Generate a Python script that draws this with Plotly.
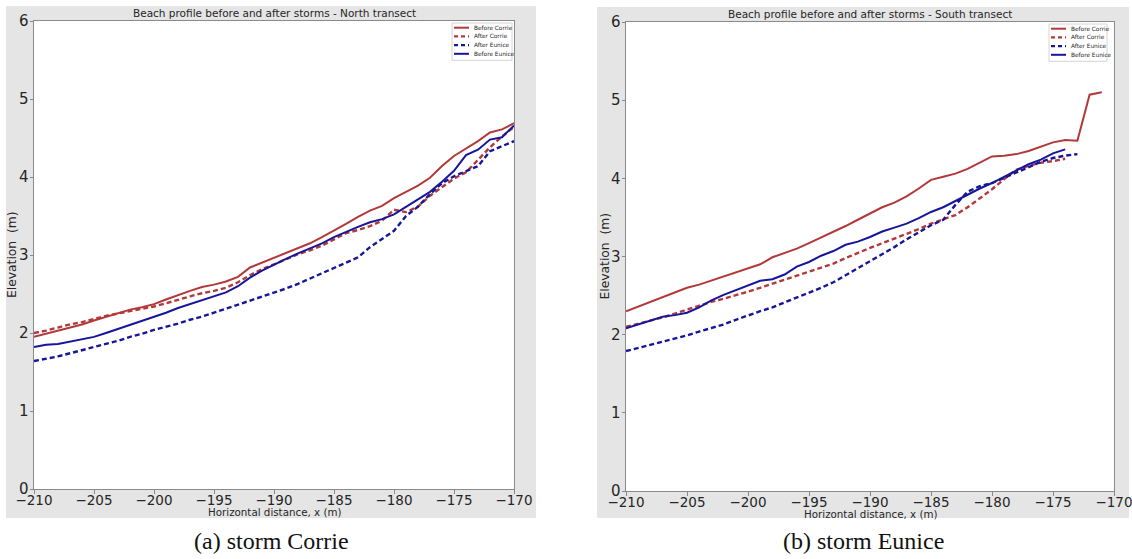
import plotly.graph_objects as go

W, H = 1132, 559

# ---------------- data ----------------
x_north = list(range(-210, -169))  # -210 .. -170

north_before_corrie = [1.95, 1.99, 2.03, 2.07, 2.11, 2.16, 2.21, 2.26, 2.30, 2.33,
                       2.37, 2.43, 2.49, 2.54, 2.59, 2.62, 2.66, 2.72, 2.84, 2.90,
                       2.96, 3.03, 3.09, 3.15, 3.23, 3.31, 3.40, 3.49, 3.57, 3.63,
                       3.73, 3.81, 3.89, 3.99, 4.14, 4.27, 4.36, 4.46, 4.57, 4.61,
                       4.69]
north_after_corrie = [2.00, 2.03, 2.07, 2.11, 2.14, 2.18, 2.22, 2.25, 2.28, 2.31,
                      2.34, 2.38, 2.43, 2.47, 2.51, 2.54, 2.58, 2.65, 2.74, 2.82,
                      2.88, 2.95, 3.01, 3.06, 3.12, 3.20, 3.28, 3.32, 3.37, 3.44,
                      3.58, 3.55, 3.62, 3.76, 3.87, 3.98, 4.06, 4.22, 4.38, 4.52,
                      4.64]
north_after_eunice = [1.64, 1.67, 1.70, 1.74, 1.78, 1.82, 1.86, 1.90, 1.95, 1.99,
                      2.04, 2.08, 2.12, 2.17, 2.21, 2.26, 2.31, 2.37, 2.41, 2.46,
                      2.52, 2.57, 2.63, 2.70, 2.77, 2.84, 2.91, 2.97, 3.10, 3.20,
                      3.31, 3.50, 3.62, 3.78, 3.92, 4.01, 4.08, 4.14, 4.33, 4.39,
                      4.46]
north_before_eunice = [1.82, 1.85, 1.86, 1.89, 1.92, 1.95, 2.00, 2.05, 2.10, 2.15,
                       2.20, 2.26, 2.32, 2.37, 2.41, 2.46, 2.52, 2.60, 2.71, 2.80,
                       2.88, 2.95, 3.02, 3.08, 3.15, 3.23, 3.30, 3.36, 3.42, 3.46,
                       3.52, 3.62, 3.72, 3.81, 3.94, 4.08, 4.28, 4.35, 4.48, 4.51,
                       4.66]

x_south_bc = list(range(-210, -170))   # -210 .. -171
south_before_corrie = [2.30, 2.36, 2.42, 2.48, 2.54, 2.60, 2.64, 2.69, 2.74, 2.79,
                       2.84, 2.90, 2.99, 3.04, 3.10, 3.17, 3.24, 3.31, 3.39, 3.47,
                       3.55, 3.63, 3.69, 3.77, 3.87, 3.98, 4.02, 4.06, 4.12, 4.20,
                       4.28, 4.29, 4.31, 4.35, 4.41, 4.46, 4.49, 4.48, 5.07, 5.10]
x_south_ac = list(range(-210, -173))   # -210 .. -174
south_after_corrie = [2.10, 2.14, 2.18, 2.22, 2.27, 2.32, 2.37, 2.42, 2.46, 2.51,
                      2.55, 2.60, 2.65, 2.70, 2.75, 2.80, 2.85, 2.91, 2.98, 3.05,
                      3.11, 3.17, 3.23, 3.28, 3.35, 3.42, 3.47, 3.53, 3.63, 3.74,
                      3.86, 3.99, 4.11, 4.16, 4.20, 4.22, 4.25]
x_south_ae = list(range(-210, -172))   # -210 .. -173
south_after_eunice = [1.79, 1.83, 1.87, 1.91, 1.95, 1.99, 2.04, 2.08, 2.13, 2.19,
                      2.25, 2.30, 2.35, 2.41, 2.47, 2.54, 2.60, 2.67, 2.76, 2.85,
                      2.93, 3.02, 3.12, 3.22, 3.31, 3.40, 3.47, 3.66, 3.83, 3.90,
                      3.94, 4.01, 4.08, 4.14, 4.21, 4.26, 4.29, 4.31]
x_south_be = list(range(-210, -173))   # -210 .. -174
south_before_eunice = [2.08, 2.13, 2.18, 2.23, 2.25, 2.28, 2.35, 2.44, 2.51, 2.57,
                       2.64, 2.69, 2.71, 2.77, 2.87, 2.93, 3.01, 3.07, 3.15, 3.19,
                       3.25, 3.32, 3.37, 3.42, 3.49, 3.57, 3.63, 3.71, 3.80, 3.87,
                       3.94, 4.02, 4.11, 4.18, 4.24, 4.32, 4.37]

x_ticks = [-210, -205, -200, -195, -190, -185, -180, -175, -170]
y_ticks = [0, 1, 2, 3, 4, 5, 6]

series_names = ["Before Corrie", "After Corrie", "After Eunice", "Before Eunice"]
titles = ["Beach profile before and after storms - North transect",
          "Beach profile before and after storms - South transect"]
captions = ["(a) storm Corrie", "(b) storm Eunice"]

RED = "#B3383A"
BLUE = "#16169A"
DASH = "5px,3px"
styles = [(RED, "solid", 2.0), (RED, DASH, 2.4), (BLUE, DASH, 2.4), (BLUE, "solid", 2.0)]

# ---------------- layout geometry (pixels) ----------------
def px(x):
    return x / W

def py(y):
    return 1 - y / H

plots = [dict(l=34, r=514, t=21, b=489, gl=6, gr=536, gt=6, gb=518,
              legl=452, legr=512, legt=23),
         dict(l=626, r=1114, t=22, b=491, gl=597, gr=1129, gt=7, gb=518,
              legl=1049, legr=1107, legt=24)]

fig = go.Figure()

panel_data = [
    [(x_north, north_before_corrie), (x_north, north_after_corrie),
     (x_north, north_after_eunice), (x_north, north_before_eunice)],
    [(x_south_bc, south_before_corrie), (x_south_ac, south_after_corrie),
     (x_south_ae, south_after_eunice), (x_south_be, south_before_eunice)],
]

for i, pdata in enumerate(panel_data):
    for (xs, ys), name, (col, dash, w) in zip(pdata, series_names, styles):
        fig.add_trace(go.Scatter(
            x=xs, y=ys, mode="lines", name=name, showlegend=False,
            line=dict(color=col, width=w, dash=dash),
            xaxis="x" if i == 0 else "x2",
            yaxis="y" if i == 0 else "y2",
        ))

shapes = []
annotations = []
TXT = "#262626"
for i, p in enumerate(plots):
    shapes.append(dict(type="rect", xref="paper", yref="paper", layer="below",
                       x0=px(p["gl"]), x1=px(p["gr"]), y0=py(p["gb"]), y1=py(p["gt"]),
                       fillcolor="#E5E5E5", line=dict(width=0)))
    shapes.append(dict(type="rect", xref="paper", yref="paper", layer="below",
                       x0=px(p["l"]), x1=px(p["r"]), y0=py(p["b"]), y1=py(p["t"]),
                       fillcolor="white", line=dict(width=0)))
    cx = (p["l"] + p["r"]) / 2
    cy = (p["t"] + p["b"]) / 2
    annotations.append(dict(text=titles[i], x=px(cx), y=py(p["t"] - 8),
                            xref="paper", yref="paper", showarrow=False,
                            xanchor="center", yanchor="middle",
                            font=dict(family="DejaVu Sans", size=10.5, color=TXT)))
    annotations.append(dict(text="Horizontal distance, x (m)", x=px(cx), y=py(p["b"] + 22.5),
                            xref="paper", yref="paper", showarrow=False,
                            xanchor="center", yanchor="middle",
                            font=dict(family="DejaVu Sans", size=10.3, color=TXT)))
    annotations.append(dict(text="Elevation  (m)", x=px(p["l"] - 22), y=py(cy),
                            xref="paper", yref="paper", showarrow=False, textangle=-90,
                            xanchor="center", yanchor="middle",
                            font=dict(family="DejaVu Sans", size=12.3, color=TXT)))
    annotations.append(dict(text=captions[i], x=px((p["gl"] + p["gr"]) / 2), y=py(541),
                            xref="paper", yref="paper", showarrow=False,
                            xanchor="center", yanchor="middle",
                            font=dict(family="Liberation Serif", size=24, color="#111111")))
    # legend (box, key lines, labels)
    row_h = 8.7
    shapes.append(dict(type="rect", xref="paper", yref="paper", layer="above",
                       x0=px(p["legl"]), x1=px(p["legr"]),
                       y0=py(p["legt"] + 4 * row_h + 2.5), y1=py(p["legt"]),
                       fillcolor="white", line=dict(color="#d4d4d4", width=1)))
    for k, (name, (col, dash, w)) in enumerate(zip(series_names, styles)):
        yy = p["legt"] + 4.7 + k * row_h
        shapes.append(dict(type="line", xref="paper", yref="paper", layer="above",
                           x0=px(p["legl"] + 2), x1=px(p["legl"] + 17),
                           y0=py(yy), y1=py(yy),
                           line=dict(color=col, width=2 if dash == "solid" else 2.2,
                                     dash="solid" if dash == "solid" else "4px,3px")))
        annotations.append(dict(text=name, x=px(p["legl"] + 19.5), y=py(yy),
                                xref="paper", yref="paper", showarrow=False,
                                xanchor="left", yanchor="middle",
                                font=dict(family="DejaVu Sans", size=5.8, color=TXT)))

axis_common = dict(showgrid=False, zeroline=False, showline=True, mirror=True,
                   linecolor="#8a8a8a", linewidth=1, ticks="outside", ticklen=3.5,
                   tickcolor="#8a8a8a", automargin=False, ticklabeloverflow="allow")

fig.update_layout(
    width=W, height=H,
    margin=dict(l=0, r=0, t=0, b=0, autoexpand=False),
    paper_bgcolor="white", plot_bgcolor="rgba(0,0,0,0)",
    showlegend=False,
    xaxis=dict(domain=[px(plots[0]["l"]), px(plots[0]["r"])], range=[-210, -170],
               tickvals=x_ticks, anchor="y", ticklabelstandoff=-5,
               tickfont=dict(family="DejaVu Sans", size=13.5, color=TXT), **axis_common),
    yaxis=dict(domain=[py(plots[0]["b"]), py(plots[0]["t"])], range=[0, 6],
               tickvals=y_ticks, anchor="x", ticklabelstandoff=-2,
               tickfont=dict(family="DejaVu Sans", size=15, color=TXT), **axis_common),
    xaxis2=dict(domain=[px(plots[1]["l"]), px(plots[1]["r"])], range=[-210, -170],
                tickvals=x_ticks, anchor="y2", ticklabelstandoff=-5,
                tickfont=dict(family="DejaVu Sans", size=13.5, color=TXT), **axis_common),
    yaxis2=dict(domain=[py(plots[1]["b"]), py(plots[1]["t"])], range=[0, 6],
                tickvals=y_ticks, anchor="x2", ticklabelstandoff=-2,
                tickfont=dict(family="DejaVu Sans", size=15, color=TXT), **axis_common),
    shapes=shapes,
    annotations=annotations,
)

fig.write_html("out.html")
